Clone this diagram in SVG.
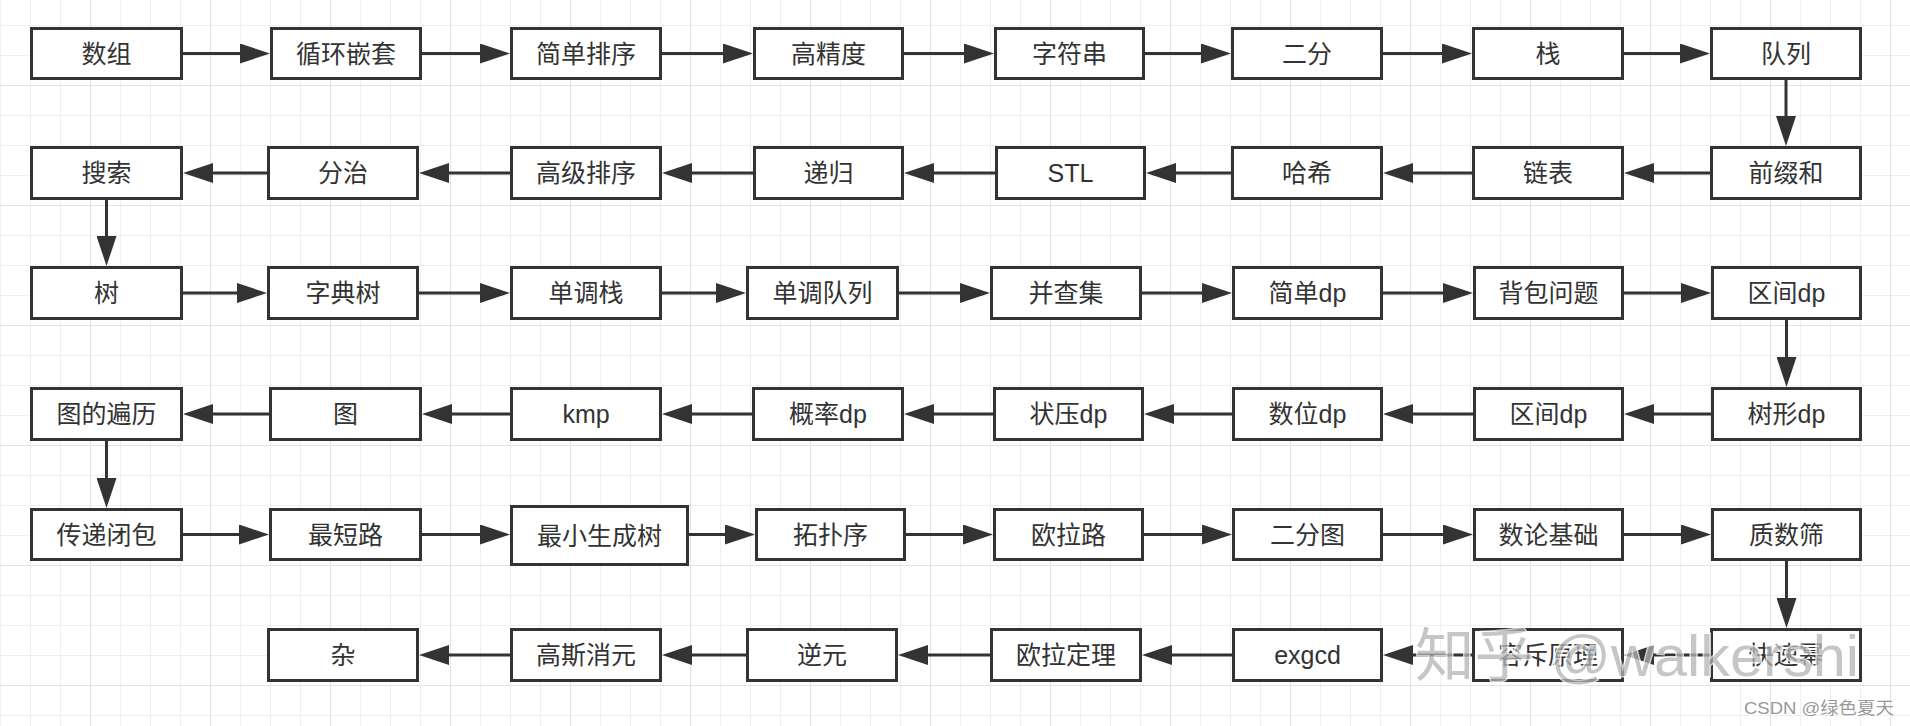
<svg xmlns="http://www.w3.org/2000/svg" width="1910" height="726" viewBox="0 0 1910 726">
<defs>
<pattern id="minor" x="0" y="25" width="30" height="30" patternUnits="userSpaceOnUse"><path d="M0,0.5 H30 M0.5,0 V30" stroke="#efefef" stroke-width="1" fill="none"/></pattern>
<pattern id="major" x="90" y="85" width="120" height="120" patternUnits="userSpaceOnUse"><path d="M0,0.5 H120 M0.5,0 V120" stroke="#e3e3e3" stroke-width="1" fill="none"/></pattern>
<marker id="ah" markerWidth="30" markerHeight="20" refX="0" refY="10" orient="auto" markerUnits="userSpaceOnUse"><path d="M0,0 L30,10 L0,20 z" fill="#333"/></marker>
</defs>
<style>
.n rect{fill:#fff;stroke:#333;stroke-width:3}
.n text{font-family:"Liberation Sans","Noto Sans CJK SC",sans-serif;font-size:25px;fill:#333;text-anchor:middle;dominant-baseline:central}
#edges path{fill:none;stroke:#333;stroke-width:3;marker-end:url(#ah)}
.wm{font-family:"Liberation Sans","Noto Sans CJK SC",sans-serif}
</style>
<rect width="1910" height="726" fill="#fff"/>
<rect width="1910" height="726" fill="url(#minor)"/>
<rect width="1910" height="726" fill="url(#major)"/>
<g id="edges">
<path d="M183,53.5H240"/><path d="M422,53.5H480"/><path d="M662,53.5H723"/><path d="M904,53.5H964"/><path d="M1145,53.5H1201"/><path d="M1383,53.5H1442"/><path d="M1624,53.5H1680"/>
<path d="M1786,80V116"/>
<path d="M1710,173H1654"/><path d="M1472,173H1413"/><path d="M1231,173H1176"/><path d="M995,173H934"/><path d="M753,173H692"/><path d="M510,173H449"/><path d="M267,173H213"/>
<path d="M106.5,200V236"/>
<path d="M183,293H237"/><path d="M419,293H480"/><path d="M662,293H716"/><path d="M899,293H960"/><path d="M1142,293H1202"/><path d="M1383,293H1443"/><path d="M1624,293H1681"/>
<path d="M1786.5,320V357"/>
<path d="M1711,414H1654"/><path d="M1473,414H1413"/><path d="M1232,414H1174"/><path d="M993,414H934"/><path d="M752,414H692"/><path d="M510,414H452"/><path d="M269,414H213"/>
<path d="M106.5,441V478"/>
<path d="M183,534.5H239"/><path d="M422,534.5H480"/><path d="M689,534.5H725"/><path d="M906,534.5H963"/><path d="M1144,534.5H1202"/><path d="M1383,534.5H1443"/><path d="M1624,534.5H1681"/>
<path d="M1786.5,561V598"/>
<path d="M1710,655H1654"/><path d="M1472,655H1413"/><path d="M1232,655H1172"/><path d="M990,655H928"/><path d="M746,655H692"/><path d="M510,655H449"/>
</g>
<g id="n1" class="n"><rect x="31.5" y="28.5" width="150" height="50"/><text x="106.5" y="53.5">数组</text></g>
<g id="n2" class="n"><rect x="271.5" y="28.5" width="149" height="50"/><text x="346" y="53.5">循环嵌套</text></g>
<g id="n3" class="n"><rect x="511.5" y="28.5" width="149" height="50"/><text x="586" y="53.5">简单排序</text></g>
<g id="n4" class="n"><rect x="754.5" y="28.5" width="148" height="50"/><text x="828.5" y="53.5">高精度</text></g>
<g id="n5" class="n"><rect x="995.5" y="28.5" width="148" height="50"/><text x="1069.5" y="53.5">字符串</text></g>
<g id="n6" class="n"><rect x="1232.5" y="28.5" width="149" height="50"/><text x="1307" y="53.5">二分</text></g>
<g id="n7" class="n"><rect x="1473.5" y="28.5" width="149" height="50"/><text x="1548" y="53.5">栈</text></g>
<g id="n8" class="n"><rect x="1711.5" y="28.5" width="149" height="50"/><text x="1786" y="53.5">队列</text></g>
<g id="n9" class="n"><rect x="1711.5" y="147.5" width="149" height="51"/><text x="1786" y="173">前缀和</text></g>
<g id="n10" class="n"><rect x="1473.5" y="147.5" width="149" height="51"/><text x="1548" y="173">链表</text></g>
<g id="n11" class="n"><rect x="1232.5" y="147.5" width="149" height="51"/><text x="1307" y="173">哈希</text></g>
<g id="n12" class="n"><rect x="996.5" y="147.5" width="148" height="51"/><text x="1070.5" y="173">STL</text></g>
<g id="n13" class="n"><rect x="754.5" y="147.5" width="148" height="51"/><text x="828.5" y="173">递归</text></g>
<g id="n14" class="n"><rect x="511.5" y="147.5" width="149" height="51"/><text x="586" y="173">高级排序</text></g>
<g id="n15" class="n"><rect x="268.5" y="147.5" width="149" height="51"/><text x="343" y="173">分治</text></g>
<g id="n16" class="n"><rect x="31.5" y="147.5" width="150" height="51"/><text x="106.5" y="173">搜索</text></g>
<g id="n17" class="n"><rect x="31.5" y="267.5" width="150" height="51"/><text x="106.5" y="293">树</text></g>
<g id="n18" class="n"><rect x="268.5" y="267.5" width="149" height="51"/><text x="343" y="293">字典树</text></g>
<g id="n19" class="n"><rect x="511.5" y="267.5" width="149" height="51"/><text x="586" y="293">单调栈</text></g>
<g id="n20" class="n"><rect x="747.5" y="267.5" width="150" height="51"/><text x="822.5" y="293">单调队列</text></g>
<g id="n21" class="n"><rect x="991.5" y="267.5" width="149" height="51"/><text x="1066" y="293">并查集</text></g>
<g id="n22" class="n"><rect x="1233.5" y="267.5" width="148" height="51"/><text x="1307.5" y="293">简单dp</text></g>
<g id="n23" class="n"><rect x="1474.5" y="267.5" width="148" height="51"/><text x="1548.5" y="293">背包问题</text></g>
<g id="n24" class="n"><rect x="1712.5" y="267.5" width="148" height="51"/><text x="1786.5" y="293">区间dp</text></g>
<g id="n25" class="n"><rect x="1712.5" y="388.5" width="148" height="51"/><text x="1786.5" y="414">树形dp</text></g>
<g id="n26" class="n"><rect x="1474.5" y="388.5" width="148" height="51"/><text x="1548.5" y="414">区间dp</text></g>
<g id="n27" class="n"><rect x="1233.5" y="388.5" width="148" height="51"/><text x="1307.5" y="414">数位dp</text></g>
<g id="n28" class="n"><rect x="994.5" y="388.5" width="148" height="51"/><text x="1068.5" y="414">状压dp</text></g>
<g id="n29" class="n"><rect x="753.5" y="388.5" width="149" height="51"/><text x="828" y="414">概率dp</text></g>
<g id="n30" class="n"><rect x="511.5" y="388.5" width="149" height="51"/><text x="586" y="414">kmp</text></g>
<g id="n31" class="n"><rect x="270.5" y="388.5" width="150" height="51"/><text x="345.5" y="414">图</text></g>
<g id="n32" class="n"><rect x="31.5" y="388.5" width="150" height="51"/><text x="106.5" y="414">图的遍历</text></g>
<g id="n33" class="n"><rect x="31.5" y="509.5" width="150" height="50"/><text x="106.5" y="534.5">传递闭包</text></g>
<g id="n34" class="n"><rect x="270.5" y="509.5" width="150" height="50"/><text x="345.5" y="534.5">最短路</text></g>
<g id="n35" class="n"><rect x="511.5" y="506.5" width="176" height="58"/><text x="599.5" y="535.5">最小生成树</text></g>
<g id="n36" class="n"><rect x="756.5" y="509.5" width="148" height="50"/><text x="830.5" y="534.5">拓扑序</text></g>
<g id="n37" class="n"><rect x="994.5" y="509.5" width="148" height="50"/><text x="1068.5" y="534.5">欧拉路</text></g>
<g id="n38" class="n"><rect x="1233.5" y="509.5" width="148" height="50"/><text x="1307.5" y="534.5">二分图</text></g>
<g id="n39" class="n"><rect x="1474.5" y="509.5" width="148" height="50"/><text x="1548.5" y="534.5">数论基础</text></g>
<g id="n40" class="n"><rect x="1712.5" y="509.5" width="148" height="50"/><text x="1786.5" y="534.5">质数筛</text></g>
<g id="n41" class="n"><rect x="1711.5" y="629.5" width="149" height="51"/><text x="1786" y="655">快速幂</text></g>
<g id="n42" class="n"><rect x="1473.5" y="629.5" width="149" height="51"/><text x="1548" y="655">容斥原理</text></g>
<g id="n43" class="n"><rect x="1233.5" y="629.5" width="148" height="51"/><text x="1307.5" y="655">exgcd</text></g>
<g id="n44" class="n"><rect x="991.5" y="629.5" width="149" height="51"/><text x="1066" y="655">欧拉定理</text></g>
<g id="n45" class="n"><rect x="747.5" y="629.5" width="149" height="51"/><text x="822" y="655">逆元</text></g>
<g id="n46" class="n"><rect x="511.5" y="629.5" width="149" height="51"/><text x="586" y="655">高斯消元</text></g>
<g id="n47" class="n"><rect x="268.5" y="629.5" width="149" height="51"/><text x="343" y="655">杂</text></g>
<text class="wm" x="1415" y="676" font-size="58" fill="#b4b4b4" stroke="#fff" stroke-width="3" paint-order="stroke" textLength="444" lengthAdjust="spacingAndGlyphs" opacity="0.75">知乎 @walkershi</text>
<text class="wm" x="1744" y="714" font-size="17" fill="#999" textLength="150" lengthAdjust="spacingAndGlyphs">CSDN @绿色夏天</text>
</svg>
